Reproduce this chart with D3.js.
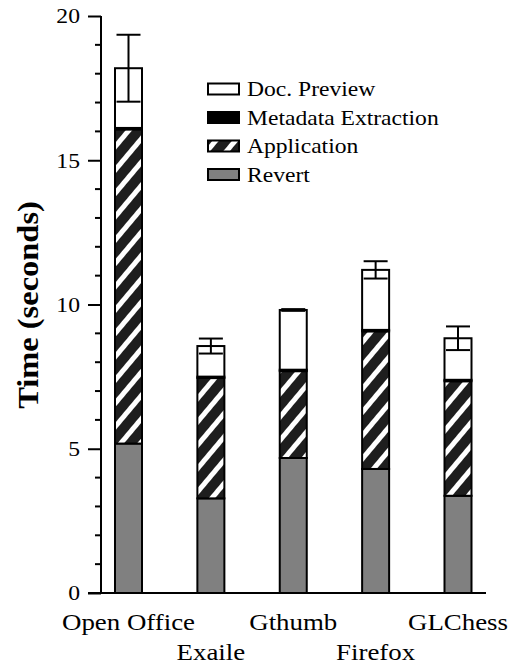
<!DOCTYPE html>
<html>
<head>
<meta charset="utf-8">
<script src="https://cdn.jsdelivr.net/npm/d3@7"></script>
<style>
  html, body { margin: 0; padding: 0; background: #fff; }
  svg text { font-family: "Liberation Serif", "Times New Roman", Times, "DejaVu Serif", serif; }
</style>
</head>
<body>
<div id="chart"></div>
<script>
// applications along the x axis
var apps = ["Open Office", "Exaile", "Gthumb", "Firefox", "GLChess"];
// stacked segments, seconds (bottom to top)
var revert = [5.18, 3.28, 4.68, 4.30, 3.37];
var application = [10.89, 4.17, 3.01, 4.77, 3.97];
var metadata = [0.05, 0.05, 0.05, 0.05, 0.05];
var preview = [2.07, 1.06, 2.07, 2.08, 1.44];
// error of the total
var errors = [1.16, 0.26, 0.03, 0.30, 0.41];
var yTicks = [0, 5, 10, 15, 20];
var legendNames = ["Doc. Preview", "Metadata Extraction", "Application", "Revert"];

var FONT = '"Liberation Serif", "Times New Roman", Times, "DejaVu Serif", serif';
var W = 509, H = 666;
var svg = d3.select("#chart").append("svg").attr("width", W).attr("height", H)
    .attr("font-family", FONT);

var defs = svg.append("defs");
var pat = defs.append("pattern")
    .attr("id", "hatch")
    .attr("patternUnits", "userSpaceOnUse")
    .attr("width", 15).attr("height", 15)
    .attr("patternTransform", "rotate(40)");
pat.append("rect").attr("width", 15).attr("height", 15).attr("fill", "#1e1e1e");
pat.append("rect").attr("x", 0).attr("width", 5).attr("height", 15).attr("fill", "#fff");

var y = d3.scaleLinear().domain([0, 20]).range([593, 16]);
var x = d3.scalePoint().domain(apps).range([128.5, 458]);
var barW = 27;

var series = [
    {name: "Revert", vals: revert, fill: "#808080"},
    {name: "Application", vals: application, fill: "url(#hatch)"},
    {name: "Metadata Extraction", vals: metadata, fill: "#000"},
    {name: "Doc. Preview", vals: preview, fill: "#fff"}
];

// stack the segments
var tops = apps.map(function(){ return 0; });
series.forEach(function(s){
    s.rows = apps.map(function(a, i){
        var r = {app: a, y0: tops[i], y1: tops[i] + s.vals[i]};
        tops[i] = r.y1;
        return r;
    });
});

var g = svg.append("g");
series.forEach(function(s){
    g.selectAll(null).data(s.rows).enter().append("rect")
        .attr("x", function(d){ return x(d.app) - barW / 2; })
        .attr("y", function(d){ return y(d.y1); })
        .attr("width", barW)
        .attr("height", function(d){ return y(d.y0) - y(d.y1); })
        .attr("fill", s.fill)
        .attr("stroke", "#000")
        .attr("stroke-width", 2);
});

// error bars
var errG = svg.append("g").attr("stroke", "#000").attr("stroke-width", 2);
apps.forEach(function(a, i){
    var cx = x(a), hi = y(tops[i] + errors[i]), lo = y(tops[i] - errors[i]);
    errG.append("line").attr("x1", cx).attr("x2", cx).attr("y1", hi).attr("y2", lo);
    errG.append("line").attr("x1", cx - 12).attr("x2", cx + 12).attr("y1", hi).attr("y2", hi);
    errG.append("line").attr("x1", cx - 12).attr("x2", cx + 12).attr("y1", lo).attr("y2", lo);
});

// the original figure is a bit wider than tall, so stretch glyphs sideways
var stretch = 1.12;

// y axis
var axisX = 101;
var yAxis = d3.axisLeft(y).tickValues(yTicks).tickSize(13).tickPadding(6);
var ya = svg.append("g").attr("transform", "translate(" + axisX + ",0)").call(yAxis)
    .attr("font-family", FONT);
ya.select(".domain").attr("stroke-width", 2).attr("d", "M0," + y(20) + "V" + y(0));
ya.selectAll(".tick line").attr("stroke-width", 2);
ya.selectAll(".tick text")
    .attr("font-size", 21.5).attr("fill", "#000")
    .attr("x", -21 / 1.1)
    .attr("transform", "scale(1.1,1)");
var minor = d3.range(0, 21).filter(function(v){ return v % 5 !== 0; });
ya.selectAll(".minor").data(minor).enter().append("line")
    .attr("class", "minor")
    .attr("x1", -6).attr("x2", 0)
    .attr("y1", function(d){ return y(d); }).attr("y2", function(d){ return y(d); })
    .attr("stroke", "#000").attr("stroke-width", 2);

// x axis line
svg.append("line").attr("x1", 88).attr("x2", 486).attr("y1", y(0)).attr("y2", y(0))
    .attr("stroke", "#000").attr("stroke-width", 2);

// x labels, alternating rows
svg.selectAll(".xlab").data(apps).enter().append("text")
    .attr("class", "xlab")
    .attr("transform", function(d, i){
        return "translate(" + x(d) + "," + (i % 2 === 0 ? 630 : 660) + ") scale(" + stretch + ",1)";
    })
    .attr("text-anchor", "middle")
    .attr("font-size", 24)
    .text(function(d){ return d; });

// y title
svg.append("text")
    .attr("transform", "translate(38,305) rotate(-90) scale(" + stretch + ",1)")
    .attr("text-anchor", "middle")
    .attr("font-size", 29)
    .attr("font-weight", "bold")
    .text("Time (seconds)");

// legend
var legendFills = {"Doc. Preview": "#fff", "Metadata Extraction": "#000", "Application": "url(#hatch)", "Revert": "#808080"};
var lg = svg.append("g").attr("transform", "translate(208,89)");
legendNames.forEach(function(n, i){
    var row = lg.append("g").attr("transform", "translate(0," + (i * 28.5) + ")");
    row.append("rect").attr("x", 0).attr("y", -5.5).attr("width", 31).attr("height", 11)
        .attr("fill", legendFills[n]).attr("stroke", "#000").attr("stroke-width", 2);
    row.append("text")
        .attr("transform", "translate(39,7) scale(1.15,1)")
        .attr("font-size", 20.5).text(n);
});
</script>
</body>
</html>
